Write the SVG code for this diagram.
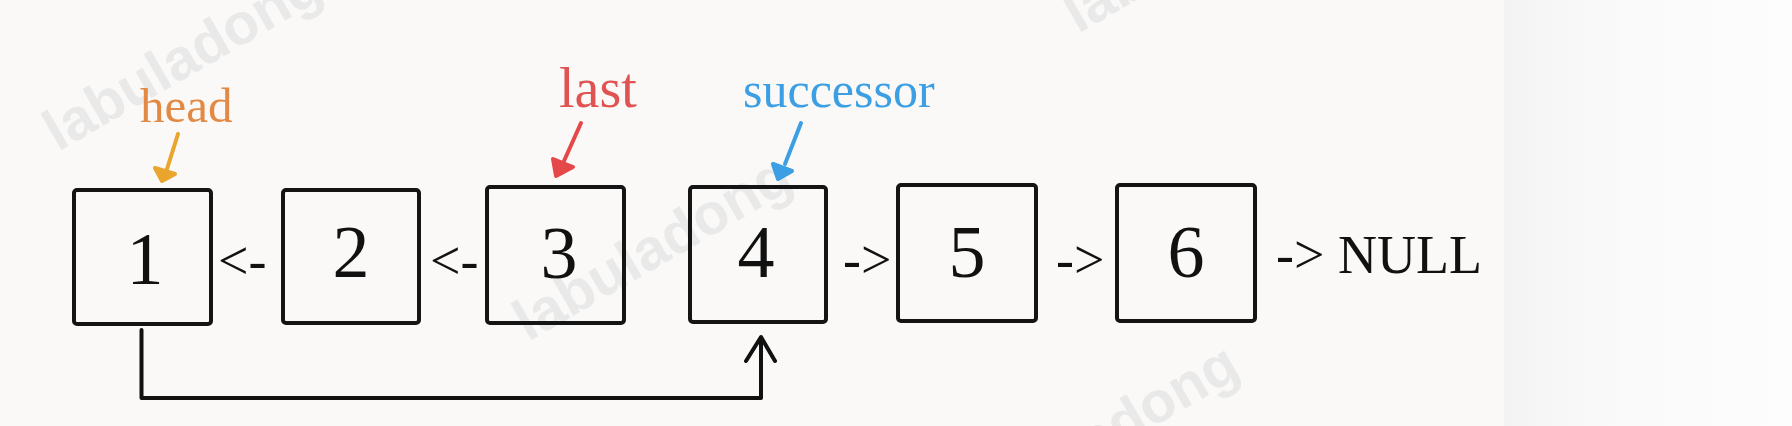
<svg xmlns="http://www.w3.org/2000/svg" width="1792" height="426" viewBox="0 0 1792 426">
<defs>
<linearGradient id="rg" x1="0" y1="0" x2="1" y2="0">
<stop offset="0" stop-color="#f3f3f4"/>
<stop offset="0.3" stop-color="#f9f9fa"/>
<stop offset="1" stop-color="#fdfdfd"/>
</linearGradient>
<style>
.box{fill:none;stroke:#141414;stroke-width:4;}
.num{font-family:"Liberation Serif","DejaVu Serif",serif;font-size:74px;fill:#111;text-anchor:middle;}
.op{font-family:"Liberation Serif","DejaVu Serif",serif;font-size:54px;fill:#111;}
.lbl{font-family:"Liberation Serif","DejaVu Serif",serif;}
.wm{font-family:"Liberation Sans","Open Sans",sans-serif;font-weight:bold;font-size:58px;fill:#e9e9e9;}
.conn{fill:none;stroke:#111;stroke-width:4;stroke-linecap:round;stroke-linejoin:round;}
.ptr{stroke-width:4;stroke-linecap:round;stroke-linejoin:round;}
</style>
</defs>
<rect x="0" y="0" width="1504" height="426" fill="#faf9f7"/>
<rect x="1504" y="0" width="288" height="426" fill="url(#rg)"/>
<g id="watermarks">
<text class="wm" x="58" y="152" transform="rotate(-30 58 152)">labuladong</text>
<text class="wm" x="528" y="342" transform="rotate(-30 528 342)">labuladong</text>
<text class="wm" x="1078" y="34" transform="rotate(-30 1078 34)">labuladong</text>
<text class="wm" x="975" y="530" transform="rotate(-30 975 530)">labuladong</text>
</g>
<g id="labels">
<g id="head">
<text class="lbl" x="140" y="122" font-size="49" fill="#e28a45">head</text>
<path class="ptr" d="M178,134 L167,169" stroke="#eaa52f" fill="none"/>
<path class="ptr" d="M175,174 L155,168 L162,181 Z" stroke="#eaa52f" fill="#eaa52f"/>
</g>
<g id="last">
<text class="lbl" x="559" y="107" font-size="56" fill="#e05353">last</text>
<path class="ptr" d="M581,123 L564,161" stroke="#e54848" fill="none"/>
<path class="ptr" d="M573,167 L553,159 L556,176 Z" stroke="#e54848" fill="#e54848"/>
</g>
<g id="successor">
<text class="lbl" x="743" y="107" font-size="50" fill="#3d9fe3">successor</text>
<path class="ptr" d="M801,123 L785,164" stroke="#3d9fe3" fill="none"/>
<path class="ptr" d="M792,171 L773,164 L778,179 Z" stroke="#3d9fe3" fill="#3d9fe3"/>
</g>
</g>
<g id="connectors">
<path class="conn" d="M141.5,330 L141.5,398 L761,398 L761,338"/>
<path class="conn" d="M746,361 L761,337 L775,361"/>
<text class="op" x="218" y="279">&lt;-</text>
<text class="op" x="430" y="279">&lt;-</text>
<text class="op" x="843" y="278">-&gt;</text>
<text class="op" x="1056" y="278">-&gt;</text>
<text class="op" x="1276" y="273" font-size="52">-&gt; NULL</text>
</g>
<g id="node1"><rect class="box" x="74" y="190" width="137" height="134" rx="3"/><text class="num" x="145" y="284">1</text></g>
<g id="node2"><rect class="box" x="283" y="190" width="136" height="133" rx="3"/><text class="num" x="351" y="277">2</text></g>
<g id="node3"><rect class="box" x="487" y="187" width="137" height="136" rx="3"/><text class="num" x="559" y="278">3</text></g>
<g id="node4"><rect class="box" x="690" y="187" width="136" height="135" rx="3"/><text class="num" x="756" y="277">4</text></g>
<g id="node5"><rect class="box" x="898" y="185" width="138" height="136" rx="3"/><text class="num" x="967" y="277">5</text></g>
<g id="node6"><rect class="box" x="1117" y="185" width="138" height="136" rx="3"/><text class="num" x="1186" y="277">6</text></g>
</svg>
